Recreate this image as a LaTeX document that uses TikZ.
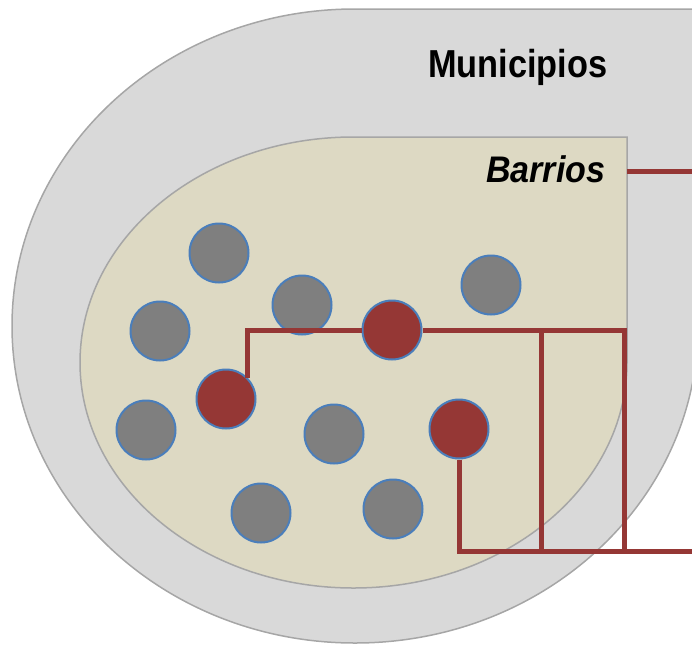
\documentclass[tikz,border=0pt]{standalone}
\usepackage{fontspec}
\newfontfamily\munifont[FakeStretch=0.88]{Liberation Sans}
\newfontfamily\barfont[FakeStretch=0.92]{Liberation Sans}
\definecolor{outergray}{HTML}{D9D9D9}
\definecolor{innerbeige}{HTML}{DDD9C3}
\definecolor{edgegray}{HTML}{A6A6A6}
\definecolor{dotgray}{HTML}{7F7F7F}
\definecolor{ringblue}{HTML}{4A7EBB}
\definecolor{linkred}{HTML}{953735}
\begin{document}
\begin{tikzpicture}[x=1pt,y=-1pt,
zone/.style={draw=edgegray,line width=1.5pt},
barrio/.style={circle,draw=ringblue,line width=2pt,minimum size=59pt,inner sep=0pt},
link/.style={draw=linkred,line width=5pt}
]
\useasboundingbox (0,0) rectangle (692,645);
\clip (0,0) rectangle (692,645);
% municipios and barrios
\draw[zone,fill=outergray] (355,9) -- (698,9) -- (698,326) arc[start angle=0,end angle=270,x radius=343,y radius=317] -- cycle;
\draw[zone,fill=innerbeige] (353.5,137) -- (627,137) -- (627,362.5) arc[start angle=0,end angle=270,x radius=273.5,y radius=225.5] -- cycle;
\node[anchor=base east,inner sep=0pt,font={\munifont\bfseries\fontsize{39pt}{44pt}\selectfont}] (muni) at (607.5,77) {Municipios};
\node[anchor=base east,inner sep=0pt,font={\barfont\bfseries\itshape\fontsize{37pt}{42pt}\selectfont}] (barr) at (605.5,182) {Barrios};

\foreach \n/\x/\y in {1/219/253,2/160/331,3/302/305,4/491/285,5/146/430,6/334/434,7/261/513,8/393/509}
  \node[barrio,fill=dotgray] (g\n) at (\x,\y) {};
\node[barrio,fill=linkred] (r1) at (392,330) {};
\node[barrio,fill=linkred] (r2) at (226,399) {};
\node[barrio,fill=linkred] (r3) at (459,429) {};

\coordinate (bartip) at (627,171);
\coordinate (barend) at (700,171);
\coordinate (midtop) at (541,330);
\coordinate (midbot) at (541,551);
\coordinate (righttop) at (624,330);
\coordinate (rightbot) at (624,551);
\coordinate (lowend) at (700,551);

\draw[link] (bartip) -- (barend);
\draw[link] (r2.44) |- (r1);
\draw[link] (r1) -- (righttop) -- (rightbot);
\draw[link] (midtop) -- (midbot);
\draw[link] (r3) |- (lowend);

\end{tikzpicture}
\end{document}
